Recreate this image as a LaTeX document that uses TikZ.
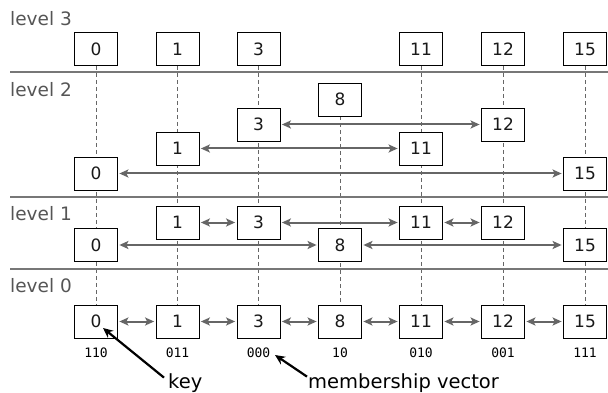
\documentclass[tikz,border=0pt]{standalone}
\usepackage{fontspec}
\setmainfont{DejaVu Sans}
\newfontfamily\monofont{DejaVu Sans Mono}
\usetikzlibrary{arrows.meta,backgrounds}

\definecolor{rulegray}{HTML}{777777}
\definecolor{linkgray}{HTML}{666666}
\definecolor{lvltext}{HTML}{555555}

\begin{document}
\begin{tikzpicture}[x=1pt,y=-1pt,
  elem/.style={draw=black, line width=0.8pt, fill=white,
    minimum width=43pt, minimum height=33pt, inner sep=0pt,
    font=\fontsize{17}{17}\selectfont, text=black!90},
  lvl/.style={anchor=base west, inner sep=0pt, text=lvltext,
    font=\fontsize{18.5}{18.5}\selectfont},
  sep/.style={draw=rulegray, line width=2pt},
  spine/.style={draw=linkgray, line width=0.9pt, dash pattern=on 4pt off 3pt},
  biarrow/.style={draw=linkgray, line width=2pt,
    {Stealth[length=9pt,width=8pt,inset=2pt]}-{Stealth[length=9pt,width=8pt,inset=2pt]},
    shorten >=1.5pt, shorten <=1.5pt},
  mv/.style={font=\monofont\fontsize{13}{13}\selectfont, anchor=base, inner sep=0pt},
  note/.style={anchor=base west, inner sep=0pt, font=\fontsize{19.5}{19.5}\selectfont},
  pointer/.style={draw=black, line width=2.2pt, -{Stealth[length=10pt,width=9pt]}}
]
\useasboundingbox (0,0) rectangle (608,393);

% level separators
\draw[sep] (10,72) -- (608,72);
\draw[sep] (10,197) -- (608,197);
\draw[sep] (10,269) -- (608,269);

% level labels
\node[lvl] (lv3) at (10,26) {level 3};
\node[lvl] (lv2) at (10,97) {level 2};
\node[lvl] (lv1) at (10,220) {level 1};
\node[lvl] (lv0) at (10,292) {level 0};

% level 3
\node[elem] (a0)  at (96,49)    {0};
\node[elem] (a1)  at (177.5,49) {1};
\node[elem] (a3)  at (258.5,49) {3};
\node[elem] (a11) at (421,49)   {11};
\node[elem] (a12) at (503,49)   {12};
\node[elem] (a15) at (585,49)   {15};

% level 2
\node[elem] (b8)  at (340,99.5)    {8};
\node[elem] (b3)  at (258.5,124.5) {3};
\node[elem] (b12) at (503,124.5)   {12};
\node[elem] (b1)  at (177.5,148.5) {1};
\node[elem] (b11) at (421,148.5)   {11};
\node[elem] (b0)  at (96,173.5)    {0};
\node[elem] (b15) at (585,173.5)   {15};

% level 1
\node[elem] (c1)  at (177.5,222.5) {1};
\node[elem] (c3)  at (258.5,222.5) {3};
\node[elem] (c11) at (421,222.5)   {11};
\node[elem] (c12) at (503,222.5)   {12};
\node[elem] (c0)  at (96,245)      {0};
\node[elem] (c8)  at (340,245)     {8};
\node[elem] (c15) at (585,245)     {15};

% level 0
\node[elem] (d0)  at (96,321.5)    {0};
\node[elem] (d1)  at (177.5,321.5) {1};
\node[elem] (d3)  at (258.5,321.5) {3};
\node[elem] (d8)  at (340,321.5)   {8};
\node[elem] (d11) at (421,321.5)   {11};
\node[elem] (d12) at (503,321.5)   {12};
\node[elem] (d15) at (585,321.5)   {15};

% vertical spines behind the boxes
\begin{scope}[on background layer]
  \draw[spine] (a0.south)  -- (d0.north);
  \draw[spine] (a1.south)  -- (d1.north);
  \draw[spine] (a3.south)  -- (d3.north);
  \draw[spine] (b8.south)  -- (d8.north);
  \draw[spine] (a11.south) -- (d11.north);
  \draw[spine] (a12.south) -- (d12.north);
  \draw[spine] (a15.south) -- (d15.north);
\end{scope}

% level 2 links
\draw[biarrow] (b3) -- (b12);
\draw[biarrow] (b1) -- (b11);
\draw[biarrow] (b0) -- (b15);

% level 1 links
\draw[biarrow] (c1) -- (c3);
\draw[biarrow] (c3) -- (c11);
\draw[biarrow] (c11) -- (c12);
\draw[biarrow] (c0) -- (c8);
\draw[biarrow] (c8) -- (c15);

% level 0 links
\draw[biarrow] (d0) -- (d1);
\draw[biarrow] (d1) -- (d3);
\draw[biarrow] (d3) -- (d8);
\draw[biarrow] (d8) -- (d11);
\draw[biarrow] (d11) -- (d12);
\draw[biarrow] (d12) -- (d15);

% membership vectors
\node[mv] (m0)  at (96,357)    {110};
\node[mv] (m1)  at (177.5,357) {011};
\node[mv] (m3)  at (258.5,357) {000};
\node[mv] (m8)  at (340,357)   {10};
\node[mv] (m11) at (421,357)   {010};
\node[mv] (m12) at (503,357)   {001};
\node[mv] (m15) at (585,357)   {111};

% annotations
\node[note] (keylbl) at (168,388) {key};
\node[note] (mvlbl)  at (308,388) {membership vector};
\coordinate (keytip) at (103,328);
\coordinate (mvtip)  at (275,355);
\draw[pointer] ([xshift=-4pt,yshift=5pt]keylbl.west) -- (keytip);
\draw[pointer] ([xshift=-1pt,yshift=6pt]mvlbl.west) -- (mvtip);
\end{tikzpicture}
\end{document}
